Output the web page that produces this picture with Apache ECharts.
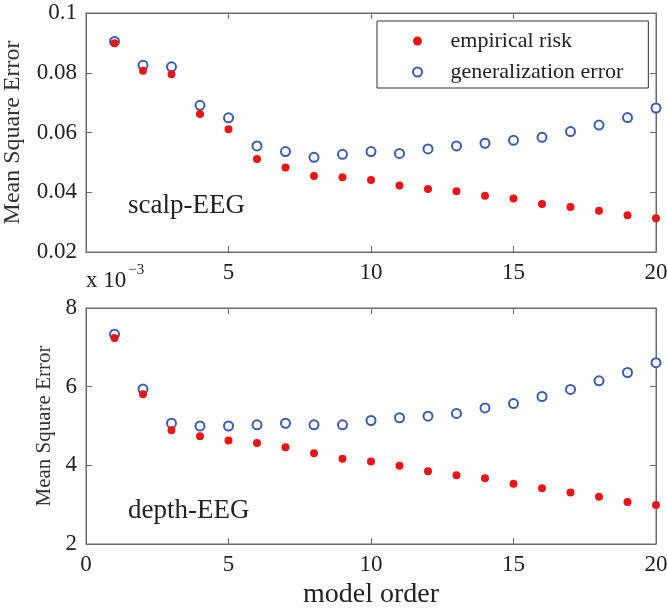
<!DOCTYPE html>
<html>
<head>
<meta charset="utf-8">
<script src="https://cdn.jsdelivr.net/npm/echarts@6/dist/echarts.min.js"></script>
<style>
html,body{margin:0;padding:0;background:#fff;}
#chart{width:667px;height:608px;}
</style>
</head>
<body>
<div id="chart"></div>
<script>
// ---- data ----
const modelOrder = [1,2,3,4,5,6,7,8,9,10,11,12,13,14,15,16,17,18,19,20];
const scalpEmpirical = [0.0899,0.0807,0.0795,0.0662,0.0611,0.0511,0.0483,0.0454,0.0450,0.0441,0.0423,0.0411,0.0403,0.0388,0.0379,0.0361,0.0351,0.0338,0.0323,0.0313];
const scalpGeneral   = [0.0905,0.0825,0.0820,0.0691,0.0649,0.0555,0.0536,0.0517,0.0527,0.0536,0.0530,0.0545,0.0555,0.0564,0.0574,0.0584,0.0603,0.0625,0.0650,0.0682];
const depthEmpirical = [7.24,5.81,4.89,4.74,4.63,4.57,4.46,4.31,4.17,4.10,3.99,3.85,3.75,3.67,3.53,3.42,3.31,3.20,3.07,2.99];
const depthGeneral   = [7.33,5.94,5.07,5.00,5.00,5.03,5.07,5.03,5.03,5.14,5.21,5.25,5.32,5.46,5.57,5.75,5.93,6.15,6.36,6.61];
const seriesNames = ['empirical risk','generalization error'];
const xTicks = [0,5,10,15,20];
const scalpYTicks = [0.02,0.04,0.06,0.08,0.1];
const depthYTicks = [2,4,6,8];

const FONT = '"Liberation Serif", "Times New Roman", serif';
const AXC = '#6a6a6a';
const RED = '#ea1419';
const BLUE = '#3d5cb0';

function pairs(ys){ return modelOrder.map((x,i)=>[x, ys[i]]); }

const chart = echarts.init(document.getElementById('chart'), null, {renderer:'canvas'});

function xAx(grid, pos, showLabel, topPlot){
  return {
    type:'value', gridIndex:grid, position:pos, min:xTicks[0], max:xTicks[xTicks.length-1], interval:xTicks[1]-xTicks[0],
    axisLine:{show:true, onZero:false, lineStyle:{color:AXC, width:1}},
    axisTick:{show:true, inside:true, length:6, lineStyle:{color:AXC}},
    splitLine:{show:false},
    axisLabel:{show:showLabel, color:'#222', fontFamily:FONT, fontSize:23, margin:9,
      formatter: v => (topPlot && v===0) ? '' : String(v)},
    name: (showLabel && !topPlot) ? 'model order' : '',
    nameLocation:'middle', nameGap:37, nameMoveOverlap:false,
    nameTextStyle:{color:'#222', fontFamily:FONT, fontSize:28}
  };
}
function yAx(grid, pos, showLabel, min, max, interval, fmt, nameSize, nameGap){
  return {
    type:'value', gridIndex:grid, position:pos, min:min, max:max, interval:interval,
    axisLine:{show:true, onZero:false, lineStyle:{color:AXC, width:1}},
    axisTick:{show:true, inside:true, length:6, lineStyle:{color:AXC}},
    splitLine:{show:false},
    axisLabel:{show:showLabel, color:'#222', fontFamily:FONT, fontSize:23, margin:9, formatter:fmt},
    name: showLabel ? 'Mean Square Error' : '',
    nameLocation:'middle', nameRotate:90, nameGap:nameGap, nameMoveOverlap:false,
    nameTextStyle:{color:'#333', fontFamily:FONT, fontSize:nameSize}
  };
}

const fmtScalp = v => {
  const r = Math.round(v*100)/100;
  return r === 0.1 ? '0.1' : r.toFixed(2);
};
const fmtDepth = v => String(Math.round(v));

const option = {
  backgroundColor:'#fff',
  animation:false,
  grid:[
    {left:86, right:11, top:13, height:239, show:true, borderColor:AXC, borderWidth:1, containLabel:false, outerBoundsMode:'none'},
    {left:86, right:11, top:308, height:236, show:true, borderColor:AXC, borderWidth:1, containLabel:false, outerBoundsMode:'none'}
  ],
  xAxis:[
    xAx(0,'bottom',true,true),
    xAx(0,'top',false,true),
    xAx(1,'bottom',true,false),
    xAx(1,'top',false,false)
  ],
  yAxis:[
    yAx(0,'left',true,scalpYTicks[0],scalpYTicks[scalpYTicks.length-1],0.02,fmtScalp,24,61),
    yAx(0,'right',false,scalpYTicks[0],scalpYTicks[scalpYTicks.length-1],0.02,fmtScalp,24,61),
    yAx(1,'left',true,depthYTicks[0],depthYTicks[depthYTicks.length-1],2,fmtDepth,21,31),
    yAx(1,'right',false,depthYTicks[0],depthYTicks[depthYTicks.length-1],2,fmtDepth,21,31)
  ],
  legend:{
    data:seriesNames,
    orient:'vertical',
    left:377, top:21,
    padding:[9,25,5,35],
    itemWidth:56, itemHeight:9, itemGap:9,
    borderColor:'#333', borderWidth:1, backgroundColor:'#fff',
    textStyle:{color:'#222', fontFamily:FONT, fontSize:22, lineHeight:22}
  },
  series:[
    {name:seriesNames[1], type:'scatter', xAxisIndex:0, yAxisIndex:0, data:pairs(scalpGeneral),
      symbol:'emptyCircle', symbolSize:9, itemStyle:{color:BLUE, borderColor:BLUE, borderWidth:1.2, opacity:1}, z:2},
    {name:seriesNames[0], type:'scatter', xAxisIndex:0, yAxisIndex:0, data:pairs(scalpEmpirical),
      symbol:'circle', symbolSize:8, itemStyle:{color:RED, opacity:1}, z:3},
    {name:seriesNames[1], type:'scatter', xAxisIndex:2, yAxisIndex:2, data:pairs(depthGeneral),
      symbol:'emptyCircle', symbolSize:9, itemStyle:{color:BLUE, borderColor:BLUE, borderWidth:1.2, opacity:1}, z:2},
    {name:seriesNames[0], type:'scatter', xAxisIndex:2, yAxisIndex:2, data:pairs(depthEmpirical),
      symbol:'circle', symbolSize:8, itemStyle:{color:RED, opacity:1}, z:3}
  ],
  graphic:[
    {type:'text', left:128, top:192, style:{text:'scalp-EEG', font:'27px ' + FONT, fill:'#222'}},
    {type:'text', left:128, top:497, style:{text:'depth-EEG', font:'27px ' + FONT, fill:'#222'}},
    {type:'text', left:86, top:263, style:{
      text:'{a|x 10}{b|−3}',
      rich:{
        a:{font:'23px ' + FONT, fill:'#222', verticalAlign:'bottom'},
        b:{font:'15px ' + FONT, fill:'#222', verticalAlign:'top', padding:[0,0,14,2]}
      }
    }}
  ]
};
chart.setOption(option);
</script>
</body>
</html>
